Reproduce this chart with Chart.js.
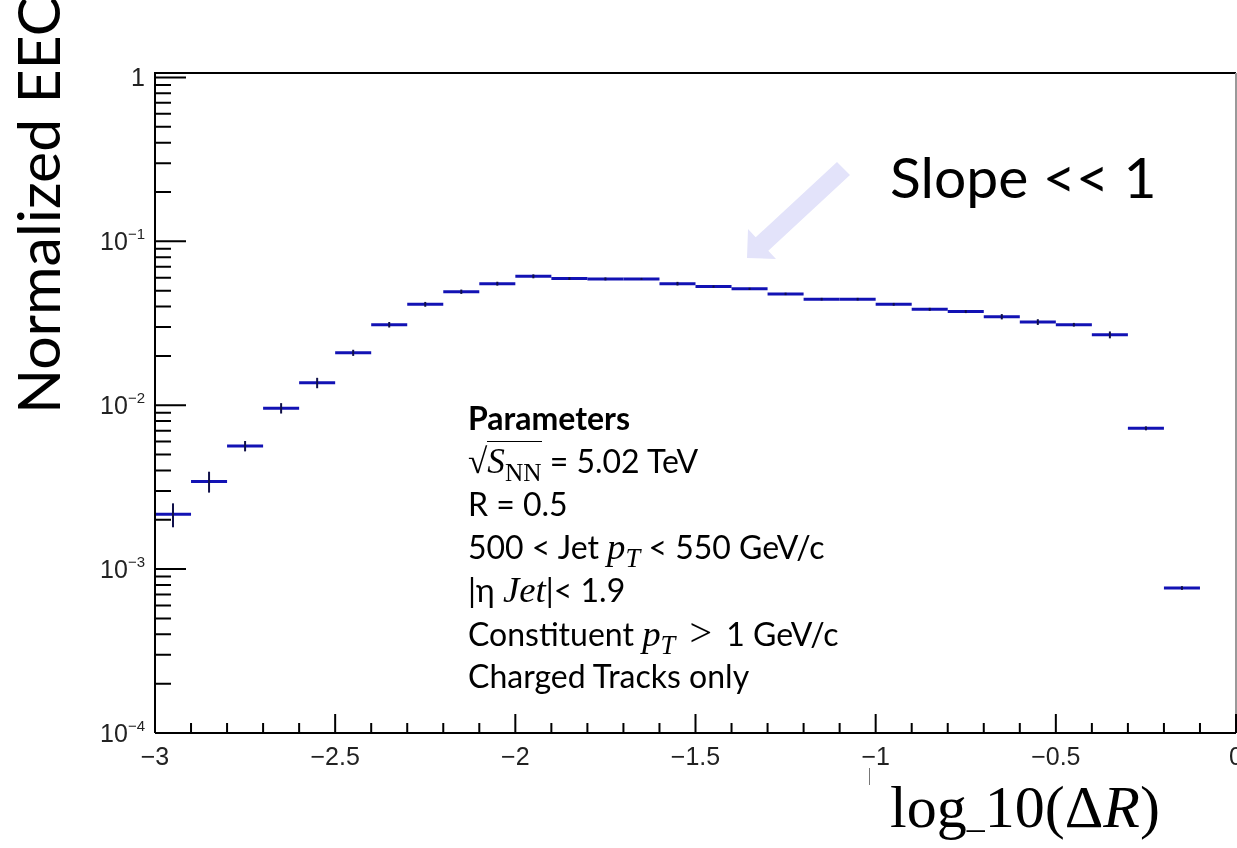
<!DOCTYPE html>
<html>
<head>
<meta charset="utf-8">
<script src="https://cdn.jsdelivr.net/npm/chart.js@4.4.0/dist/chart.umd.min.js"></script>
<style>
  html, body { margin: 0; padding: 0; background: #fff; }
  #wrap { position: relative; width: 1237px; height: 848px; overflow: hidden; }
  #chart { position: absolute; left: 0; top: 0; }
  .ann { position: absolute; white-space: nowrap; color: #000; font-family: Lato, "Noto Sans", sans-serif; }
  .m { font-family: "Liberation Serif", "DejaVu Serif", serif; font-size: 1.1em; }
  .mi { font-family: "Liberation Serif", "DejaVu Serif", serif; font-style: italic; font-size: 1.15em; }
  .rel { font-family: "Liberation Serif", "DejaVu Serif", serif; font-size: 1.25em; margin: 0 6px; }
  sub { font-size: 0.72em; vertical-align: -0.3em; line-height: 0; }
  #ytitle { left: 8px; top: 414px; font-size: 59px; line-height: 59px; transform: rotate(-90deg); transform-origin: 0 0; }
  #slope { left: 890px; top: 148px; font-size: 57px; line-height: 57px; }
  #params { left: 468px; top: 396px; font-size: 32px; }
  #params div { height: 43px; line-height: 43px; }
  #xtitle { left: 890px; top: 774px; font-size: 60px; line-height: 66px; }
  #cursor { position: absolute; left: 869px; top: 768px; width: 0; height: 17px; border-left: 1px solid #777; }
  #arrow { position: absolute; left: 0; top: 0; }
</style>
</head>
<body>
<div id="wrap">
  <canvas id="chart" width="1237" height="848"></canvas>
  <svg id="arrow" width="1237" height="848">
    <polygon points="850,175 768.3,250.7 776,259 747,258 748,229 755.7,237.3 837,162" fill="#e3e3fa"/>
  </svg>
  <div class="ann" id="ytitle">Normalized EEC</div>
  <div class="ann" id="slope">Slope &lt;&lt; 1</div>
  <div class="ann" id="params">
    <div><b>Parameters</b></div>
    <div><span class="m">√<span style="border-top:1.5px solid #000;"><i>S</i><sub>NN</sub></span></span> = 5.02 TeV</div>
    <div>R = 0.5</div>
    <div>500 &lt; Jet <span class="mi">p<sub>T</sub></span> &lt; 550 GeV/c</div>
    <div>|η <span class="mi">Jet</span>|&lt; 1.9</div>
    <div>Constituent <span class="mi">p<sub>T</sub></span> <span class="rel">&gt;</span> 1 GeV/c</div>
    <div>Charged Tracks only</div>
  </div>
  <div id="cursor"></div>
  <div class="ann" id="xtitle" style="font-family:'Liberation Serif','DejaVu Serif',serif;">log<span style="font-size:0.6em">_</span>10(Δ<i>R</i>)</div>
</div>
<script>
// ビン中心 log10(ΔR)
const binCenters = [
  -2.95, -2.85, -2.75, -2.65, -2.55, -2.45, -2.35, -2.25, -2.15, -2.05,
  -1.95, -1.85, -1.75, -1.65, -1.55, -1.45, -1.35, -1.25, -1.15, -1.05,
  -0.95, -0.85, -0.75, -0.65, -0.55, -0.45, -0.35, -0.25, -0.15
];
const binWidth = 0.1;

// Normalized EEC
const eecValues = [
  0.00216, 0.00343, 0.00564, 0.0096, 0.0137, 0.0209, 0.031, 0.0413, 0.0493, 0.0552,
  0.0612, 0.0593, 0.059, 0.059, 0.0552, 0.053, 0.0513, 0.0478, 0.0444, 0.0444,
  0.0413, 0.0385, 0.0373, 0.0347, 0.0322, 0.031, 0.0269, 0.00723, 0.000767
];

// 統計誤差
const eecErrors = [
  0.00036, 0.00050, 0.00041, 0.0007, 0.001, 0.0009, 0.0012, 0.0014, 0.0015, 0.0015,
  0.0017, 0.0012, 0.0012, 0.0008, 0.0014, 0.0008, 0.0008, 0.0008, 0.0008, 0.0008,
  0.0008, 0.0008, 0.0008, 0.0013, 0.0013, 0.0008, 0.0013, 0.0002, 0.00002
];

const xMajorTicks = [-3, -2.5, -2, -1.5, -1, -0.5, 0];
const xMinorTicks = [-2.9, -2.8, -2.7, -2.6, -2.4, -2.3, -2.2, -2.1, -1.9, -1.8, -1.7, -1.6,
  -1.4, -1.3, -1.2, -1.1, -0.9, -0.8, -0.7, -0.6, -0.4, -0.3, -0.2, -0.1];
const yMajorTicks = [1e-4, 1e-3, 1e-2, 1e-1, 1];
const yMajorLabels = [['10', '\u22124'], ['10', '\u22123'], ['10', '\u22122'], ['10', '\u22121'], ['1', '']];
const yMinorMantissa = [2, 3, 4, 5, 6, 7, 8, 9];

const LINE_BLUE = '#1212b4';
const ERR_COLOR = '#10104a';
const LABEL_FONT = '"Liberation Sans", Arial, sans-serif';

/**
 * ROOT風のヒストグラム（横線＋誤差棒）
 */
const histPlugin = {
  id: 'histPlugin',
  afterDatasetsDraw(chart) {
    const { ctx, scales: { x, y } } = chart;
    const pts = chart.data.datasets[0].data;
    ctx.save();
    pts.forEach((p, i) => {
      const xl = x.getPixelForValue(p.x - binWidth / 2);
      const xr = x.getPixelForValue(p.x + binWidth / 2);
      const xc = x.getPixelForValue(p.x);
      const yp = y.getPixelForValue(p.y);
      const err = eecErrors[i];
      const yt = y.getPixelForValue(p.y + err);
      const yb = y.getPixelForValue(Math.max(p.y - err, 1e-6));

      ctx.strokeStyle = LINE_BLUE;
      ctx.lineWidth = 3;
      ctx.beginPath();
      ctx.moveTo(xl, yp);
      ctx.lineTo(xr, yp);
      ctx.stroke();

      ctx.strokeStyle = ERR_COLOR;
      ctx.lineWidth = 2;
      ctx.beginPath();
      ctx.moveTo(xc, yt);
      ctx.lineTo(xc, yb);
      ctx.stroke();
    });
    ctx.restore();
  }
};

/**
 * フレームと内向きの目盛り、y軸ラベル
 */
const framePlugin = {
  id: 'framePlugin',
  afterDraw(chart) {
    const { ctx, chartArea: a, scales: { x, y } } = chart;
    ctx.save();
    ctx.lineWidth = 2;
    ctx.strokeStyle = '#000';

    // 枠
    ctx.beginPath();
    ctx.moveTo(a.left, a.bottom);
    ctx.lineTo(a.left, a.top);
    ctx.lineTo(a.right, a.top);
    ctx.moveTo(a.left, a.bottom);
    ctx.lineTo(a.right, a.bottom);
    ctx.stroke();
    ctx.strokeStyle = '#999';
    ctx.beginPath();
    ctx.moveTo(a.right, a.top);
    ctx.lineTo(a.right, a.bottom);
    ctx.stroke();

    ctx.strokeStyle = '#000';
    ctx.beginPath();
    // x 目盛り
    xMajorTicks.forEach(v => {
      const px = x.getPixelForValue(v);
      ctx.moveTo(px, a.bottom);
      ctx.lineTo(px, a.bottom - 19);
    });
    xMinorTicks.forEach(v => {
      const px = x.getPixelForValue(v);
      ctx.moveTo(px, a.bottom);
      ctx.lineTo(px, a.bottom - 10);
    });
    // y 目盛り
    yMajorTicks.forEach(v => {
      const py = y.getPixelForValue(v);
      ctx.moveTo(a.left, py);
      ctx.lineTo(a.left + 31, py);
    });
    yMajorTicks.slice(0, -1).forEach(dec => {
      yMinorMantissa.forEach(m => {
        const py = y.getPixelForValue(dec * m);
        ctx.moveTo(a.left, py);
        ctx.lineTo(a.left + 16, py);
      });
    });
    ctx.stroke();

    // y ラベル（10のべき）
    ctx.fillStyle = '#222';
    ctx.textBaseline = 'alphabetic';
    ctx.textAlign = 'left';
    const right = a.left - 10;
    yMajorTicks.forEach((v, i) => {
      const py = y.getPixelForValue(v);
      const [base, sup] = yMajorLabels[i];
      ctx.font = '25px ' + LABEL_FONT;
      const wb = ctx.measureText(base).width;
      ctx.font = '15px ' + LABEL_FONT;
      const ws = sup ? ctx.measureText(sup).width : 0;
      const x0 = right - wb - ws;
      ctx.font = '25px ' + LABEL_FONT;
      ctx.fillText(base, x0, py + 9);
      if (sup) {
        ctx.font = '15px ' + LABEL_FONT;
        ctx.fillText(sup, x0 + wb, py - 2);
      }
    });
    ctx.restore();
  }
};

const points = binCenters.map((c, i) => ({ x: c, y: eecValues[i] }));

new Chart(document.getElementById('chart'), {
  type: 'scatter',
  data: {
    datasets: [{
      label: 'EEC',
      data: points,
      pointRadius: 0,
      showLine: false
    }]
  },
  options: {
    responsive: false,
    animation: false,
    devicePixelRatio: 1,
    layout: {
      autoPadding: false,
      padding: { left: 155, right: 1, top: 73, bottom: 0 }
    },
    plugins: {
      legend: { display: false },
      tooltip: { enabled: false }
    },
    scales: {
      x: {
        type: 'linear',
        min: -3,
        max: 0,
        afterFit: (scale) => {
          scale.height = 115;
          scale.paddingLeft = 0;
          scale.paddingRight = 0;
        },
        grid: { display: false, drawTicks: false },
        border: { display: false },
        ticks: {
          stepSize: 0.5,
          autoSkip: false,
          maxRotation: 0,
          padding: 10,
          color: '#222',
          font: { family: LABEL_FONT, size: 25 },
          callback: (v) => (v < 0 ? '\u2212' + Math.abs(v) : String(v))
        }
      },
      y: {
        type: 'logarithmic',
        display: false,
        min: 1e-4,
        max: 1.065
      }
    }
  },
  plugins: [histPlugin, framePlugin]
});
</script>
</body>
</html>
